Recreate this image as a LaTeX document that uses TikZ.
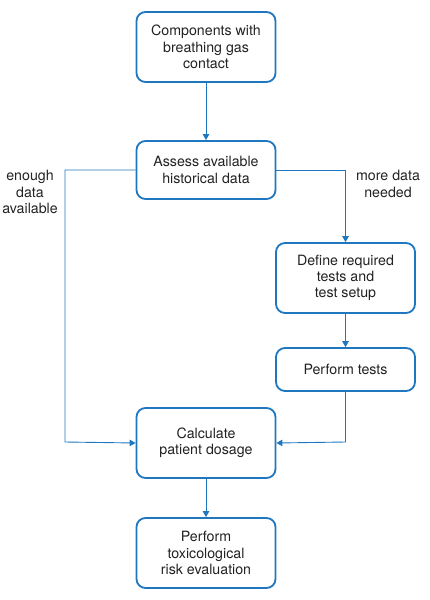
\documentclass[tikz,border=0pt]{standalone}
\usepackage{fontspec}
\setmainfont{TeX Gyre Heros}
\usetikzlibrary{arrows.meta}
\definecolor{flowblue}{HTML}{1F77C0}
\definecolor{txt}{HTML}{222222}
\begin{document}
\begin{tikzpicture}[x=1pt,y=-1pt,
  box/.style={draw=flowblue,line width=1.8pt,rounded corners=9pt,fill=white,
    minimum width=139pt,align=center,text=txt,
    font=\fontsize{14.2}{16.3}\selectfont,inner sep=0pt},
  conn/.style={draw=flowblue,line width=0.9pt,-{Triangle[width=6.5pt,length=6pt]}},
  lbl/.style={align=center,text=txt,font=\fontsize{14.2}{16.5}\selectfont,inner sep=0pt}]
\useasboundingbox (0,0) rectangle (429,600);
\node[box,minimum height=70pt] (b1) at (206,47) {Components with\\breathing gas\\contact};
\node[box,minimum height=58pt] (b2) at (206,170) {Assess available\\historical data};
\node[box,minimum height=70pt] (b3) at (345.5,278) {Define required\\tests and\\test setup};
\node[box,minimum height=43pt] (b4) at (345.5,369.5) {Perform tests};
\node[box,minimum height=70pt] (b5) at (206,443) {Calculate\\patient dosage};
\node[box,minimum height=70pt] (b6) at (206,553) {Perform\\toxicological\\risk evaluation};
\coordinate (lt) at (65,170);
\coordinate (lb) at (65,442);
\coordinate (rt) at (345.5,170);
\coordinate (rb) at (345.5,442);
\draw[conn] (b1) -- (b2);
\draw[conn] (b2.west) -- (lt) -- (lb) -- (b5.west);
\draw[conn] (b2.east) -- (rt) -- (b3.north);
\draw[conn] (b3) -- (b4);
\draw[conn] (b4.south) -- (rb) -- (b5.east);
\draw[conn] (b5) -- (b6);
\node[lbl] (l1) at (30,192) {enough\\data\\available};
\node[lbl] (l2) at (388,184) {more data\\needed};
\end{tikzpicture}
\end{document}
